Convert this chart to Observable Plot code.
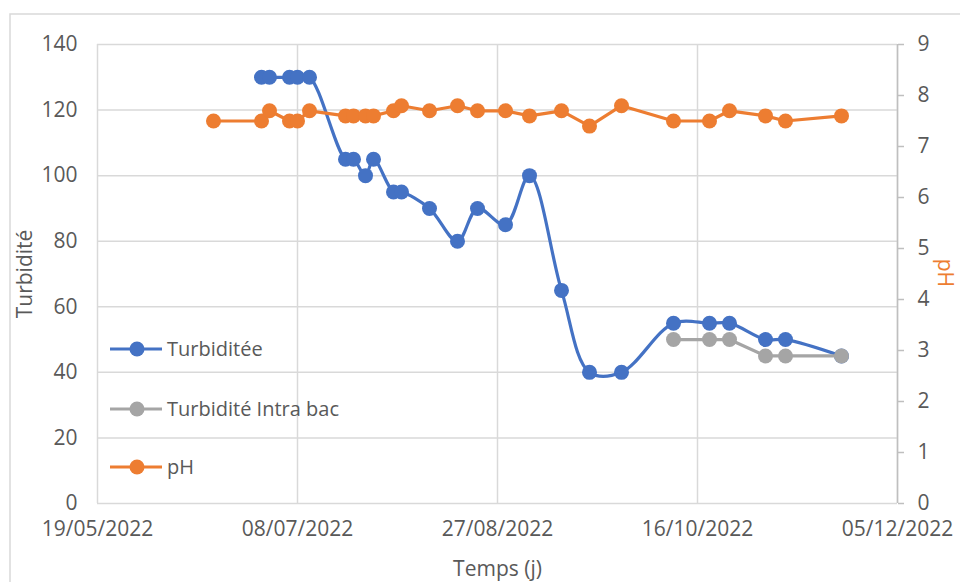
<!DOCTYPE html>
<html>
<head>
<meta charset="utf-8">
<script src="https://cdn.jsdelivr.net/npm/d3@7"></script>
<script src="https://cdn.jsdelivr.net/npm/@observablehq/plot@0.6"></script>
<style>
  html, body { margin: 0; padding: 0; background: #fff; }
  #chart { width: 960px; height: 582px; overflow: hidden; }
</style>
</head>
<body>
<div id="chart"></div>
<script>
// ---- Data ----
const turbDates = ["2022-06-29","2022-07-01","2022-07-06","2022-07-08","2022-07-11","2022-07-20","2022-07-22","2022-07-25","2022-07-27","2022-08-01","2022-08-03","2022-08-10","2022-08-17","2022-08-22","2022-08-29","2022-09-04","2022-09-12","2022-09-19","2022-09-27","2022-10-10","2022-10-19","2022-10-24","2022-11-02","2022-11-07","2022-11-21"];
const turbValues = [130,130,130,130,130,105,105,100,105,95,95,90,80,90,85,100,65,40,40,55,55,55,50,50,45];

const intraDates = ["2022-10-10","2022-10-19","2022-10-24","2022-11-02","2022-11-07","2022-11-21"];
const intraValues = [50,50,50,45,45,45];

const phDates = ["2022-06-17","2022-06-29","2022-07-01","2022-07-06","2022-07-08","2022-07-11","2022-07-20","2022-07-22","2022-07-25","2022-07-27","2022-08-01","2022-08-03","2022-08-10","2022-08-17","2022-08-22","2022-08-29","2022-09-04","2022-09-12","2022-09-19","2022-09-27","2022-10-10","2022-10-19","2022-10-24","2022-11-02","2022-11-07","2022-11-21"];
const phValues = [7.5,7.5,7.7,7.5,7.5,7.7,7.6,7.6,7.6,7.6,7.7,7.8,7.7,7.8,7.7,7.7,7.6,7.7,7.4,7.8,7.5,7.5,7.7,7.6,7.5,7.6];

const xTickLabels = ["2022-05-19","2022-07-08","2022-08-27","2022-10-16","2022-12-05"];
const yLeftTicks = [0,20,40,60,80,100,120,140];
const yRightTicks = [0,1,2,3,4,5,6,7,8,9];

const seriesNames = ["Turbiditée","Turbidité Intra bac","pH"];
const seriesColors = ["#4472C4","#A5A5A5","#ED7D31"];

// ---- Build tables ----
const parse = d3.utcParse("%Y-%m-%d");
const turb = turbDates.map((d,i) => ({date: parse(d), v: turbValues[i]}));
const intra = intraDates.map((d,i) => ({date: parse(d), v: intraValues[i]}));
const ph = phDates.map((d,i) => ({date: parse(d), v: phValues[i]}));
const xTicks = xTickLabels.map(parse);

const LMAX = 140, RMAX = 9;
const toLeft = v => v * LMAX / RMAX;

const textColor = "#595959";
const gridColor = "#D9D9D9";

const plot = Plot.plot({
  width: 960,
  height: 582,
  marginLeft: 97,
  marginRight: 63,
  marginTop: 44,
  marginBottom: 79,
  style: {fontFamily: "'Open Sans', sans-serif", fontSize: "21px", color: textColor, background: "white", overflow: "visible"},
  x: {type: "utc", domain: [xTicks[0], xTicks[xTicks.length-1]]},
  y: {domain: [0, LMAX]},
  marks: [
    Plot.gridY(yLeftTicks, {stroke: gridColor, strokeOpacity: 1, strokeWidth: 1.5}),
    Plot.gridX(xTicks, {stroke: gridColor, strokeOpacity: 1, strokeWidth: 1.5}),
    Plot.axisX(xTicks, {tickSize: 0, tickPadding: 18, tickFormat: d3.utcFormat("%d/%m/%Y"), label: "Temps (j)", labelAnchor: "center", labelOffset: 72, labelArrow: "none"}),
    Plot.axisY(yLeftTicks, {anchor: "left", tickSize: 0, tickPadding: 20, label: "Turbidité", labelAnchor: "center", labelOffset: 80, labelArrow: "none"}),
    Plot.axisY(yRightTicks.map(toLeft), {anchor: "right", tickSize: 6, tickPadding: 14, stroke: "#BFBFBF", strokeWidth: 1.5, tickFormat: d => String(Math.round(d * RMAX / LMAX)), label: null}),
    Plot.ruleX([xTicks[xTicks.length-1]], {stroke: "#BFBFBF", strokeWidth: 1.5}),
    Plot.text(["pH"], {frameAnchor: "right", dx: 47, dy: 13, rotate: 90, fill: seriesColors[2], fontSize: 21}),
    // Turbidité (smoothed)
    Plot.line(turb, {x: "date", y: "v", stroke: seriesColors[0], strokeWidth: 3.2, curve: "catmull-rom"}),
    Plot.dot(turb, {x: "date", y: "v", r: 7.5, fill: seriesColors[0], stroke: "none"}),
    // Intra bac
    Plot.line(intra, {x: "date", y: "v", stroke: seriesColors[1], strokeWidth: 3.2}),
    Plot.dot(intra, {x: "date", y: "v", r: 7.5, fill: seriesColors[1], stroke: "none"}),
    // pH on secondary axis
    Plot.line(ph, {x: "date", y: d => toLeft(d.v), stroke: seriesColors[2], strokeWidth: 3.2}),
    Plot.dot(ph, {x: "date", y: d => toLeft(d.v), r: 7.5, fill: seriesColors[2], stroke: "none"})
  ]
});

document.getElementById("chart").appendChild(plot);

// Outer chart border and legend
const svg = d3.select(plot);
svg.insert("rect", ":first-child")
  .attr("x", 10).attr("y", 14).attr("width", 1000).attr("height", 700)
  .attr("fill", "white").attr("stroke", "#D9D9D9").attr("stroke-width", 1.5);

const legendYs = [349, 409, 467];
const lg = svg.append("g").attr("class", "legend");
seriesNames.forEach((name, i) => {
  const g = lg.append("g").attr("transform", `translate(110,${legendYs[i]})`);
  g.append("line").attr("x1", 0).attr("x2", 52).attr("y1", 0).attr("y2", 0)
    .attr("stroke", seriesColors[i]).attr("stroke-width", 3.2);
  g.append("circle").attr("cx", 27).attr("cy", 0).attr("r", 7.5).attr("fill", seriesColors[i]);
  g.append("text").attr("x", 57).attr("y", 0).attr("dy", "0.35em")
    .attr("text-anchor", "start")
    .attr("fill", textColor).attr("font-size", 20).text(name);
});
</script>
</body>
</html>
